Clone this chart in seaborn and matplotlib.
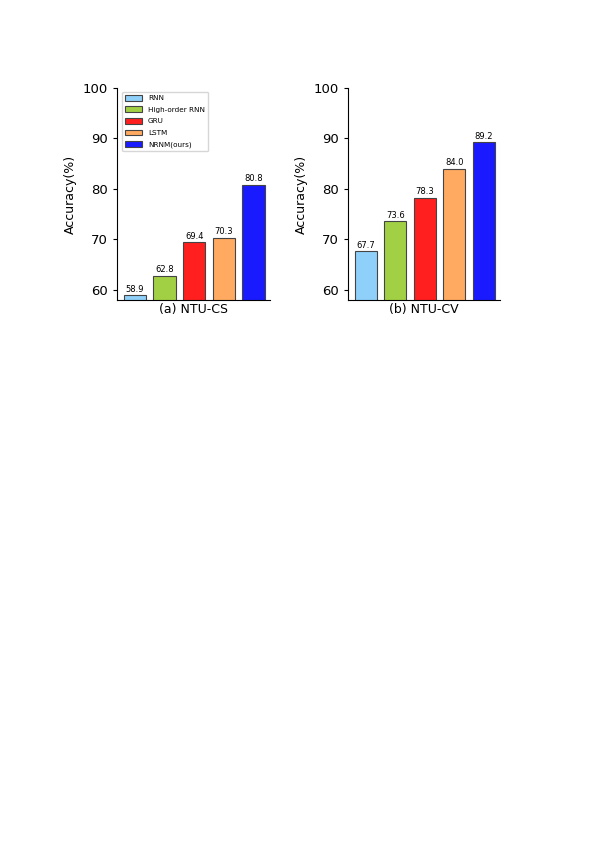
import pandas as pd
import matplotlib
matplotlib.use("Agg")
import matplotlib.pyplot as plt
import seaborn as sns

# Data
methods = ["RNN", "High-order RNN", "GRU", "LSTM", "NRNM(ours)"]
acc_cs = [58.9, 62.8, 69.4, 70.3, 80.8]
acc_cv = [67.7, 73.6, 78.3, 84.0, 89.2]
colors = ["#8fd0fa", "#a2d044", "#ff1f1f", "#ffaa60", "#1a1aff"]
titles = ["(a) NTU-CS", "(b) NTU-CV"]

sns.set_style("ticks")
plt.rcParams["font.family"] = ["DejaVu Sans"]
plt.rcParams["text.color"] = "black"
plt.rcParams["axes.labelcolor"] = "black"
plt.rcParams["xtick.color"] = "black"
plt.rcParams["ytick.color"] = "black"
plt.rcParams["axes.edgecolor"] = "black"

fig = plt.figure(figsize=(6.08, 8.6), dpi=100)
ax1 = fig.add_axes([0.1924, 0.6512, 0.2516, 0.2465])
ax2 = fig.add_axes([0.5724, 0.6512, 0.25, 0.2465])

for ax, vals, title, show_legend in zip([ax1, ax2], [acc_cs, acc_cv], titles, [True, False]):
    df = pd.DataFrame({"Method": methods, "Accuracy": vals})
    sns.barplot(data=df, x="Method", y="Accuracy", hue="Method",
                palette=colors, saturation=1, width=0.75, edgecolor="#444444",
                linewidth=0.8, legend=show_legend, ax=ax)
    for c in ax.containers:
        ax.bar_label(c, fmt="%.1f", fontsize=6, padding=1)
    ax.set_ylim(58, 100)
    ax.set_xlim(-0.6, 4.55)
    ax.set_yticks([60, 70, 80, 90, 100])
    ax.tick_params(axis="y", labelsize=9.5, length=3)
    ax.set_xticks([])
    ax.set_xlabel(title, fontsize=9, labelpad=2.5)
    ax.set_ylabel("Accuracy(%)", fontsize=9)
    sns.despine(ax=ax)
    if show_legend:
        ax.legend(loc="upper left", fontsize=5.2, frameon=True,
                  handlelength=2.3, handleheight=0.85, borderpad=0.45,
                  labelspacing=0.72, bbox_to_anchor=(0.01, 1.0))

fig.savefig("out.png", dpi=100)
plt.close()
